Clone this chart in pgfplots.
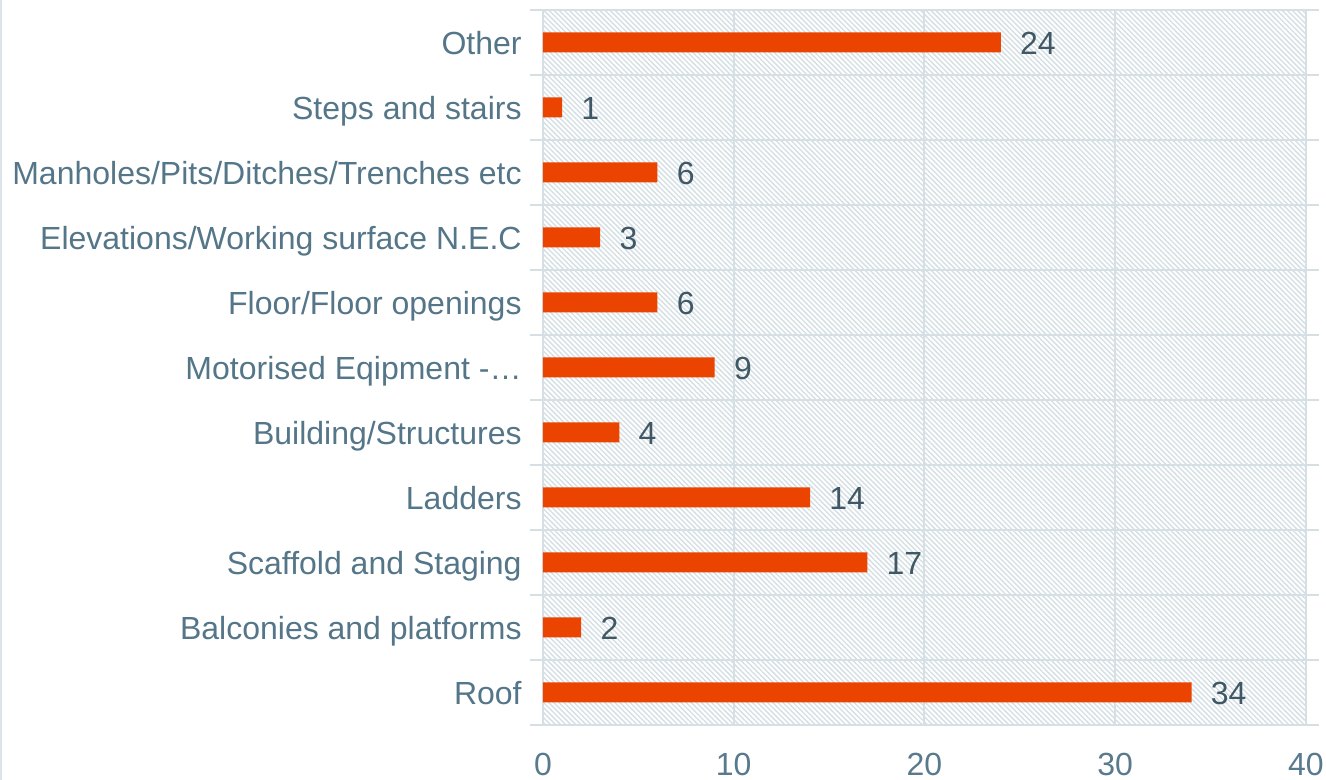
\documentclass[border=0pt]{standalone}
\usepackage{fontspec}
\setmainfont{Liberation Sans}
\usepackage{pgfplots}
\pgfplotsset{compat=1.18}
\usetikzlibrary{patterns.meta}
\definecolor{barc}{RGB}{234,68,0}
\definecolor{gridc}{RGB}{214,224,228}
\definecolor{hatchc}{RGB}{214,224,228}
\definecolor{catc}{RGB}{84,118,136}
\definecolor{tickc}{RGB}{88,122,140}
\definecolor{valc}{RGB}{64,88,102}
\definecolor{borderc}{RGB}{220,228,234}
\begin{document}
\begin{tikzpicture}
\begin{axis}[
  name=ax,
  at={(0,0)}, anchor=south west,
  scale only axis,
  width=381.5pt, height=357.5pt,
  xbar, bar width=10pt,
  xmin=0, xmax=40,
  ymin=-0.5, ymax=10.5,
  xtick={0,10,20,30,40},
  ytick={0,...,10},
  yticklabels={Roof,Balconies and platforms,Scaffold and Staging,Ladders,Building/Structures,Motorised Eqipment -…,Floor/Floor openings,Elevations/Working surface N.E.C,Manholes/Pits/Ditches/Trenches etc,Steps and stairs,Other},
  minor ytick={-0.5,0.5,...,10.5},
  xmajorgrids, yminorgrids,
  grid style={draw=gridc, line width=1pt},
  minor grid style={draw=gridc, line width=1pt},
  axis line style={draw=none},
  tick align=outside,
  major tick length=0pt,
  minor tick length=6.5pt,
  minor tick style={draw=gridc, line width=1pt},
  major tick style={draw=none},
  axis background/.style={pattern={Lines[angle=-45,distance=1.8pt,line width=0.75pt]}, pattern color=hatchc},
  yticklabel style={font=\fontsize{16}{19}\selectfont, text=catc, inner sep=0pt, anchor=base east, xshift=-10.5pt, yshift=-5.8pt},
  xticklabel style={font=\fontsize{16}{19}\selectfont, text=tickc, inner sep=0pt, anchor=north, yshift=-14pt},
  /pgf/number format/assume math mode=true,
  nodes near coords,
  nodes near coords style={font=\fontsize{16}{19}\selectfont, text=valc, inner sep=0pt, anchor=base west, xshift=9.5pt, yshift=-5.8pt},
  clip=false,
]
\addplot[fill=barc, draw=none] coordinates {
  (34,0) (2,1) (17,2) (14,3) (4,4) (9,5) (6,6) (3,7) (6,8) (1,9) (24,10)
};
\end{axis}
\pgfresetboundingbox
\path[use as bounding box] (-271.5pt,-27.5pt) rectangle (391.5pt,362.5pt);
\draw[borderc, line width=1.2pt] (-270.9pt,-27.5pt) -- (-270.9pt,362.5pt);
\end{tikzpicture}
\end{document}
